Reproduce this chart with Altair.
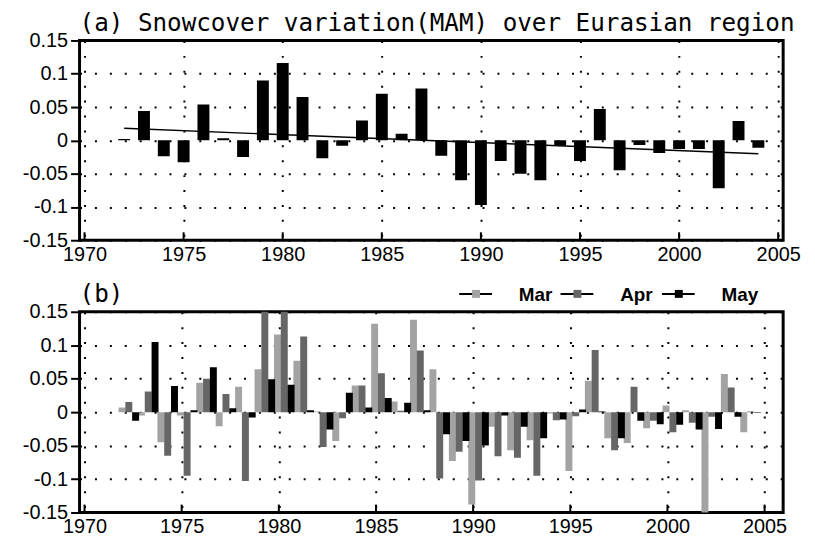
import altair as alt
import pandas as pd

years = list(range(1972, 2005))

# (a) MAM snow cover anomaly
mam = [0.002, 0.044, -0.024, -0.033, 0.054, 0.003, -0.025, 0.090, 0.116, 0.065,
       -0.027, -0.008, 0.030, 0.070, 0.010, 0.078, -0.023, -0.060, -0.097, -0.031,
       -0.050, -0.060, -0.008, -0.031, 0.047, -0.045, -0.007, -0.019, -0.013, -0.013,
       -0.072, 0.029, -0.011]
trend_years = [1972, 2004]
trend_values = [0.018, -0.020]

# (b) monthly anomalies
months = ["Mar", "Apr", "May"]
mar = [0.007, -0.005, -0.045, -0.005, 0.044, -0.021, 0.038, 0.064, 0.116, 0.077,
       0.001, -0.043, 0.040, 0.132, 0.016, 0.138, 0.064, -0.073, -0.138, -0.022,
       -0.057, -0.042, -0.002, -0.088, 0.047, -0.039, -0.046, -0.024, 0.010, 0.003,
       -0.175, 0.057, -0.030]
apr = [0.015, 0.031, -0.065, -0.095, 0.050, 0.027, -0.103, 0.165, 0.160, 0.113,
       -0.052, -0.009, 0.040, 0.058, 0.002, 0.092, -0.099, -0.059, -0.102, -0.066,
       -0.068, -0.095, -0.012, -0.006, 0.093, -0.057, 0.038, -0.013, -0.030, -0.016,
       -0.007, 0.037, 0.001]
may = [-0.013, 0.105, 0.039, 0.003, 0.067, 0.006, -0.008, 0.049, 0.041, 0.003,
       -0.026, 0.029, 0.007, 0.021, 0.014, 0.003, -0.033, -0.043, -0.050, -0.005,
       -0.022, -0.039, -0.011, 0.004, 0.001, -0.039, -0.013, -0.018, -0.019, -0.026,
       -0.025, -0.007, -0.001]
month_colors = ["#a3a3a3", "#666666", "#000000"]

x_ticks = list(range(1970, 2006, 5))
y_ticks = [-0.15, -0.1, -0.05, 0, 0.05, 0.1, 0.15]

title_a = "(a) Snowcover variation(MAM) over Eurasian region"
title_b = "(b)"

W = 708
HA = 201
HB = 202

df_a = pd.DataFrame({"year": years, "value": mam})
df_trend = pd.DataFrame({"year": trend_years, "value": trend_values})
df_b = pd.concat([
    pd.DataFrame({"year": years, "month": m, "value": v})
    for m, v in zip(months, [mar, apr, may])
], ignore_index=True)
df_ticks = pd.DataFrame({"t": x_ticks})


def x_axis():
    return alt.Axis(values=x_ticks, format="d", title=None, ticks=False, domain=False,
                    grid=True, gridDash=[2, 13], gridColor="black", gridWidth=2,
                    labelFont="Liberation Sans", labelFontSize=20, labelColor="black",
                    labelPadding=4, labelFlush=False, labelOverlap=False)


def y_axis():
    return alt.Axis(values=y_ticks, labelExpr="toString(datum.value)", title=None,
                    ticks=True, tickSize=9, tickWidth=2, tickColor="black", domain=False,
                    grid=True, gridDash=[2, 13], gridColor="black", gridWidth=2,
                    labelFont="Liberation Sans", labelFontSize=20, labelColor="black",
                    labelPadding=3, labelFlush=False, labelOverlap=False)


yscale = alt.Scale(domain=[-0.15, 0.15], nice=False, zero=False)

# ---------- panel (a)
xs_a = alt.Scale(domain=[1970, 2005], nice=False, zero=False)
bars_a = alt.Chart(df_a).mark_bar(color="black", size=12, clip=True).encode(
    x=alt.X("year:Q", scale=xs_a, axis=x_axis()),
    y=alt.Y("value:Q", scale=yscale, axis=y_axis()),
)
trend_a = alt.Chart(df_trend).mark_line(color="black", strokeWidth=1.5).encode(
    x=alt.X("year:Q", scale=xs_a, axis=x_axis()),
    y=alt.Y("value:Q", scale=yscale, axis=y_axis()),
)
ticks_a = alt.Chart(df_ticks).mark_rule(color="black", strokeWidth=2).encode(
    x=alt.X("t:Q", scale=xs_a, axis=x_axis()), y=alt.value(HA), y2=alt.value(HA - 8)
)
panel_a = alt.layer(bars_a, trend_a, ticks_a).properties(
    width=W, height=HA,
    title=alt.TitleParams(title_a, anchor="start", frame="group", font="DejaVu Sans Mono",
                          fontSize=24.4, fontWeight="normal", color="black", offset=-6, dx=0),
)

# ---------- panel (b)
xs_b = alt.Scale(domain=[1970, 2005.7], nice=False, zero=False)
bars_b = alt.Chart(df_b).transform_calculate(
    pos="datum.year - 0.07 + 0.35 * indexof(['Mar','Apr','May'], datum.month)"
).mark_bar(size=7, clip=True).encode(
    x=alt.X("pos:Q", scale=xs_b, axis=x_axis()),
    y=alt.Y("value:Q", scale=yscale, axis=y_axis()),
    color=alt.Color("month:N", scale=alt.Scale(domain=months, range=month_colors),
                    legend=None),
)
ticks_b = alt.Chart(df_ticks).mark_rule(color="black", strokeWidth=2).encode(
    x=alt.X("t:Q", scale=xs_b, axis=x_axis()), y=alt.value(HB), y2=alt.value(HB - 8)
)

LEG_Y = -18
label_b = alt.Chart(pd.DataFrame({"t": [title_b]})).mark_text(
    text=title_b, font="DejaVu Sans Mono", fontSize=24.4, color="black",
    align="left", baseline="middle").encode(x=alt.value(0), y=alt.value(LEG_Y + 1))

# hand-drawn legend above panel (b): line with square marker, then label
legend_layers = []
LEG_X0 = 382
LEG_STEP = 102
for i, (m, c) in enumerate(zip(months, month_colors)):
    x0 = LEG_X0 + i * LEG_STEP
    one = pd.DataFrame({"month": [m]})
    legend_layers.append(alt.Chart(one).mark_rule(color="black", strokeWidth=2).encode(
        x=alt.value(x0), x2=alt.value(x0 + 33), y=alt.value(LEG_Y)))
    legend_layers.append(alt.Chart(one).mark_square(size=64, color=c, opacity=1, filled=True).encode(
        x=alt.value(x0 + 17), y=alt.value(LEG_Y)))
    legend_layers.append(alt.Chart(one).mark_text(
        text=m, font="Liberation Sans", fontSize=19, fontWeight="bold", color="black",
        align="left", baseline="middle").encode(x=alt.value(x0 + 60), y=alt.value(LEG_Y + 1)))

panel_b = alt.layer(bars_b, ticks_b, label_b, *legend_layers).properties(
    width=W, height=HB,
)

chart = alt.vconcat(panel_a, panel_b, spacing=14).properties(
    padding={"left": 12, "top": 0, "right": 5, "bottom": 5},
    background="white",
).configure_view(stroke="black", strokeWidth=3)

chart.save("out.html", embed_options={"renderer": "svg", "actions": False})
